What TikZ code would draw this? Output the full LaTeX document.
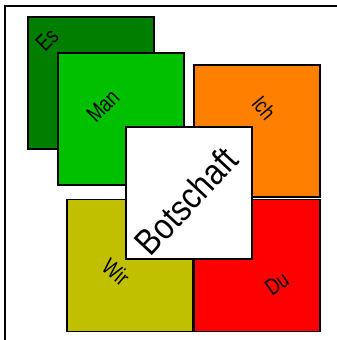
\documentclass[tikz,border=0pt]{standalone}
\usepackage{fontspec}
\setmainfont{Liberation Sans}
\definecolor{esgreen}{RGB}{0,126,0}
\definecolor{mangreen}{RGB}{0,192,0}
\definecolor{ichorange}{RGB}{255,128,0}
\definecolor{wiryellow}{RGB}{192,192,0}
\definecolor{dured}{RGB}{255,0,0}
\begin{document}
\begin{tikzpicture}[x=1pt,y=-1pt,
  card/.style={draw=black,line width=1.6pt,minimum width=126pt,minimum height=132pt,inner sep=0pt,anchor=north west},
  lbl/.style={inner sep=0pt,text=black,font=\fontsize{20}{20}\selectfont}]
\useasboundingbox (0,0) rectangle (337,340);
\fill[white] (0,0) rectangle (337,340);
\draw[line width=1.6pt] (5,345) -- (5,6) -- (345,6);
\node[card,fill=esgreen] (es) at (27,16) {};
\node[card,fill=mangreen] (man) at (57,52) {};
\node[card,fill=ichorange] (ich) at (193,64) {};
\node[card,fill=wiryellow] (wir) at (66,198.5) {};
\node[card,fill=dured] (du) at (193,198.5) {};
\node[card,fill=white] (bot) at (125,126) {};
\node[lbl,rotate=45] (tes) at (47,40) {\scalebox{0.9}[1.15]{Es}};
\node[lbl,rotate=45] (tman) at (103,106) {\scalebox{0.9}[1.15]{Man}};
\node[lbl,rotate=-50] (tich) at (264,108) {\scalebox{0.85}[1.1]{Ich}};
\node[lbl,rotate=-40] (twir) at (116,272) {\scalebox{0.9}[1.15]{Wir}};
\node[lbl,rotate=35] (tdu) at (277,284) {\scalebox{0.9}[1.15]{Du}};
\node[lbl,rotate=47,font=\fontsize{33}{33}\selectfont] (tbot) at (186,201) {\scalebox{0.95}[1.1]{Botschaft}};
\end{tikzpicture}
\end{document}
